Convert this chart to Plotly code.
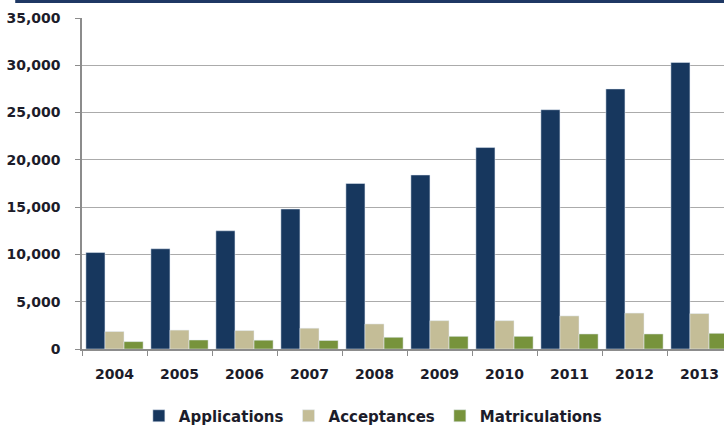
import plotly.graph_objects as go

years = ["2004", "2005", "2006", "2007", "2008", "2009", "2010", "2011", "2012", "2013"]
applications = [10200, 10600, 12500, 14800, 17500, 18400, 21300, 25300, 27500, 30300]
acceptances = [1850, 2000, 1950, 2200, 2650, 3000, 3000, 3500, 3800, 3750]
matriculations = [780, 950, 930, 900, 1240, 1340, 1340, 1590, 1590, 1660]

FONT = "DejaVu Sans"
TXT = "#1c1c2a"

fig = go.Figure()
fig.add_bar(x=years, y=applications, name="Applications", marker_color="#17375E")
fig.add_bar(x=years, y=acceptances, name="Acceptances", marker_color="#C4BD97")
fig.add_bar(x=years, y=matriculations, name="Matriculations", marker_color="#77933C")

fig.update_layout(
    width=724, height=432,
    margin=dict(l=82, r=0, t=18, b=83),
    paper_bgcolor="white", plot_bgcolor="white",
    barmode="group", bargap=0.12, bargroupgap=0,
    font=dict(family=FONT, color=TXT),
    legend=dict(orientation="h", xref="container", x=0.515, xanchor="center",
                yref="container", y=0.037, yanchor="middle", itemwidth=30,
                font=dict(family=FONT, size=15, weight="bold", color=TXT)),
    shapes=[dict(type="line", xref="paper", yref="paper",
                 x0=-0.104, x1=1.0, y0=1.0498, y1=1.0498,
                 line=dict(color="#1F3864", width=3))],
)
fig.update_xaxes(type="category", range=[-0.5, 9.377], showline=True, linecolor="#8c8c8c",
                 linewidth=1.5, ticks="outside", tickson="boundaries", ticklen=5,
                 tickcolor="#8c8c8c", showgrid=False, ticklabelstandoff=11,
                 tickfont=dict(family=FONT, size=14, weight="bold", color=TXT))
fig.update_yaxes(range=[0, 35000], dtick=5000, tickformat=",", showline=True,
                 linecolor="#8c8c8c", linewidth=1.5, ticks="outside", ticklen=5,
                 tickcolor="#8c8c8c", showgrid=True, gridcolor="#ababab", gridwidth=1,
                 zeroline=False, ticklabelstandoff=12,
                 tickfont=dict(family=FONT, size=14, weight="bold", color=TXT))

fig.write_html("out.html", config={"displayModeBar": False},
               post_script="document.body.style.margin='0';")
